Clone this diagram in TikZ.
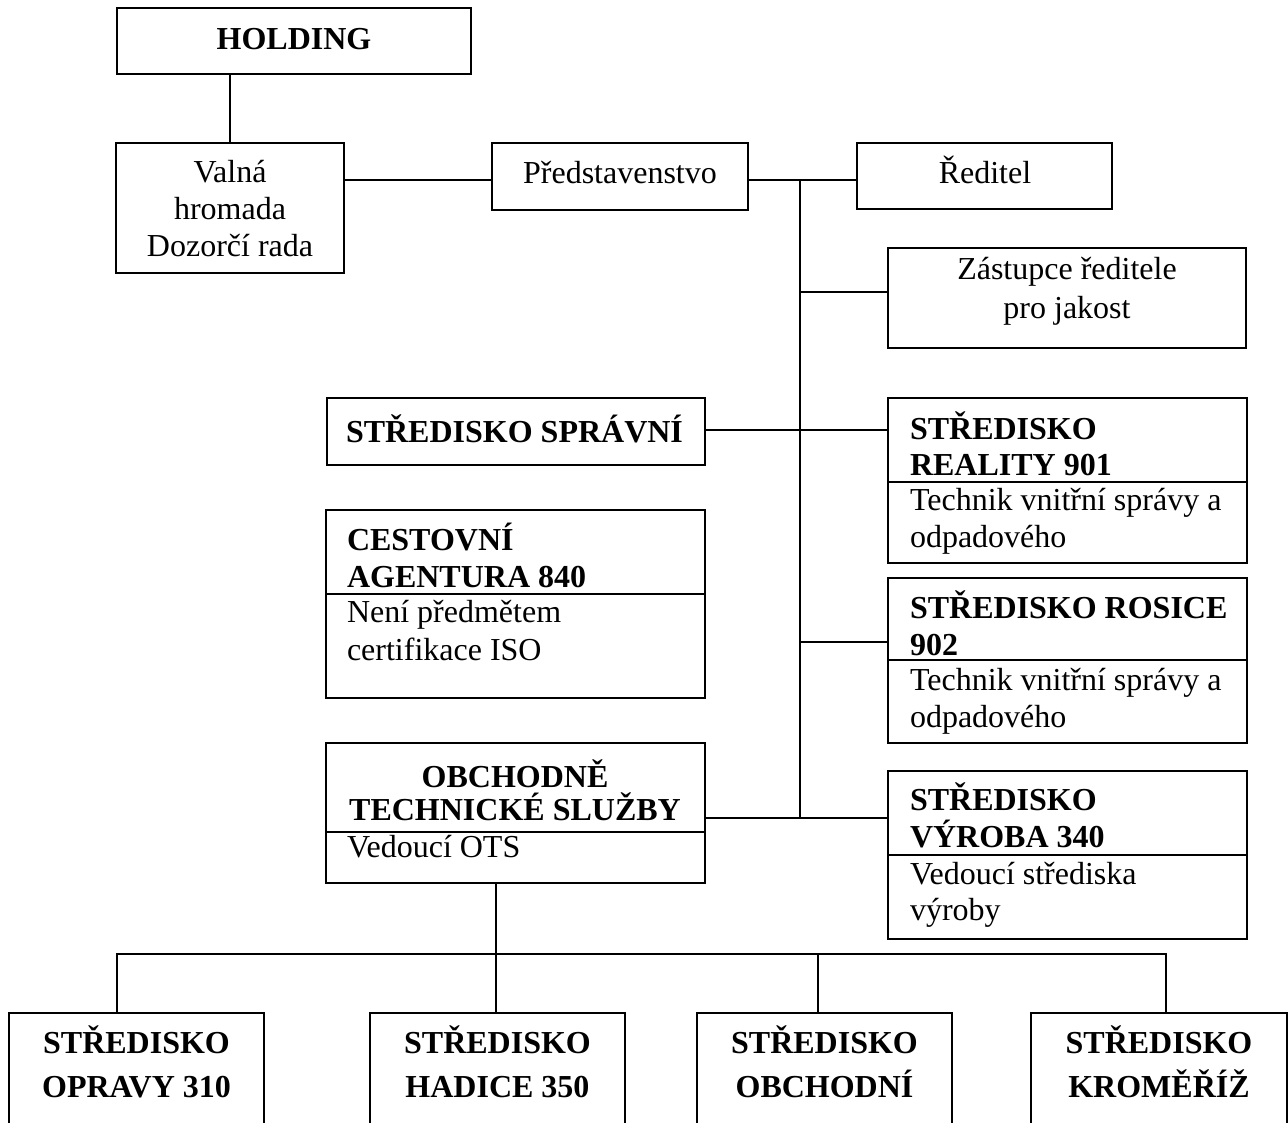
\documentclass[tikz,border=0pt]{standalone}
\usepackage{fontspec}
\setmainfont{Liberation Serif}
\begin{document}
\begin{tikzpicture}[x=1pt,y=-1pt,
  ln/.style={line width=1.6pt, black},
  box/.style={draw, line width=1.6pt, rectangle, inner sep=0pt, outer sep=0pt, anchor=north west},
  txt/.style={inner sep=0pt, outer sep=0pt, font=\fontsize{32pt}{37pt}\selectfont},
  txtb/.style={txt, font=\fontsize{32pt}{37pt}\selectfont\bfseries}]
\useasboundingbox (0,0) rectangle (1288,1122);
\fill[white] (0,0) rectangle (1288,1122);
% boxes
\node[box, minimum width=354pt, minimum height=66pt] (holding) at (117,8) {};
\node[box, minimum width=228pt, minimum height=130pt] (valna) at (116,143) {};
\node[box, minimum width=256pt, minimum height=67pt] (predst) at (492,143) {};
\node[box, minimum width=255pt, minimum height=66pt] (reditel) at (857,143) {};
\node[box, minimum width=358pt, minimum height=100pt] (zastupce) at (888,248) {};
\node[box, minimum width=378pt, minimum height=67pt] (spravni) at (327,398) {};
\node[box, minimum width=359pt, minimum height=165pt] (reality) at (888,398) {};
\node[box, minimum width=359pt, minimum height=165pt] (rosice) at (888,578) {};
\node[box, minimum width=379pt, minimum height=188pt] (cestovni) at (326,510) {};
\node[box, minimum width=379pt, minimum height=140pt] (obchod) at (326,743) {};
\node[box, minimum width=359pt, minimum height=168pt] (vyroba) at (888,771) {};
\node[box, minimum width=255pt, minimum height=140pt] (b1) at (9,1013) {};
\node[box, minimum width=255pt, minimum height=140pt] (b2) at (370,1013) {};
\node[box, minimum width=255pt, minimum height=140pt] (b3) at (697,1013) {};
\node[box, minimum width=256pt, minimum height=140pt] (b4) at (1031,1013) {};
% dividers
\draw[ln] (reality.west |- 0,482) -- (reality.east |- 0,482);
\draw[ln] (rosice.west |- 0,660) -- (rosice.east |- 0,660);
\draw[ln] (cestovni.west |- 0,594) -- (cestovni.east |- 0,594);
\draw[ln] (obchod.west |- 0,832) -- (obchod.east |- 0,832);
\draw[ln] (vyroba.west |- 0,855) -- (vyroba.east |- 0,855);
% texts
\node[txtb, anchor=base] (tholding) at (294,49) {HOLDING};
\node[txt, anchor=base] (tvalna1) at (230,182) {Valná};
\node[txt, anchor=base] (tvalna2) at (230,219) {hromada};
\node[txt, anchor=base] (tvalna3) at (230,256) {Dozorčí rada};
\node[txt, anchor=base] (tpredst) at (620,183) {Představenstvo};
\node[txt, anchor=base] (treditel) at (985,183) {Ředitel};
\node[txt, anchor=base] (tzast1) at (1067,279) {Zástupce ředitele};
\node[txt, anchor=base] (tzast2) at (1067,318) {pro jakost};
\node[txtb, anchor=base west] (tspravni) at (346,442) {STŘEDISKO SPRÁVNÍ};
\node[txtb, anchor=base west] (treal1) at (910,439) {STŘEDISKO};
\node[txtb, anchor=base west] (treal2) at (910,475) {REALITY 901};
\node[txt, anchor=base west] (treal3) at (910,510) {Technik vnitřní správy a};
\node[txt, anchor=base west] (treal4) at (910,547) {odpadového};
\node[txtb, anchor=base west] (tros1) at (910,618) {STŘEDISKO ROSICE};
\node[txtb, anchor=base west] (tros2) at (910,655) {902};
\node[txt, anchor=base west] (tros3) at (910,690) {Technik vnitřní správy a};
\node[txt, anchor=base west] (tros4) at (910,727) {odpadového};
\node[txtb, anchor=base west] (tces1) at (347,550) {CESTOVNÍ};
\node[txtb, anchor=base west] (tces2) at (347,587) {AGENTURA 840};
\node[txt, anchor=base west] (tces3) at (347,622) {Není předmětem};
\node[txt, anchor=base west] (tces4) at (347,660) {certifikace ISO};
\node[txtb, anchor=base] (tobch1) at (515,787) {OBCHODNĚ};
\node[txtb, anchor=base] (tobch2) at (515,820) {TECHNICKÉ SLUŽBY};
\node[txt, anchor=base west] (tobch3) at (347,857) {Vedoucí OTS};
\node[txtb, anchor=base west] (tvyr1) at (910,810) {STŘEDISKO};
\node[txtb, anchor=base west] (tvyr2) at (910,847) {VÝROBA 340};
\node[txt, anchor=base west] (tvyr3) at (910,884) {Vedoucí střediska};
\node[txt, anchor=base west] (tvyr4) at (910,920) {výroby};
\node[txtb, anchor=base] (tb1a) at (136.5,1053) {STŘEDISKO};
\node[txtb, anchor=base] (tb1b) at (136.5,1097) {OPRAVY 310};
\node[txtb, anchor=base] (tb2a) at (497.5,1053) {STŘEDISKO};
\node[txtb, anchor=base] (tb2b) at (497.5,1097) {HADICE 350};
\node[txtb, anchor=base] (tb3a) at (824.5,1053) {STŘEDISKO};
\node[txtb, anchor=base] (tb3b) at (824.5,1097) {OBCHODNÍ};
\node[txtb, anchor=base] (tb4a) at (1159,1053) {STŘEDISKO};
\node[txtb, anchor=base] (tb4b) at (1159,1097) {KROMĚŘÍŽ};
% connectors
\coordinate (j0) at (800,180);
\coordinate (j1) at (800,292);
\coordinate (j2) at (800,430);
\coordinate (j3) at (800,642);
\coordinate (j4) at (800,818);
\draw[ln] (valna.north) -- (valna.north |- holding.south);
\draw[ln] (valna.east |- j0) -- (predst.west |- j0);
\draw[ln] (predst.east |- j0) -- (reditel.west |- j0);
\draw[ln] (j0) -- (j4);
\draw[ln] (j1) -- (zastupce.west |- j1);
\draw[ln] (spravni.east |- j2) -- (reality.west |- j2);
\draw[ln] (j3) -- (rosice.west |- j3);
\draw[ln] (obchod.east |- j4) -- (vyroba.west |- j4);
\coordinate (c1) at (117,954);
\coordinate (c2) at (496,954);
\coordinate (c3) at (818,954);
\coordinate (c4) at (1166,954);
\draw[ln] (c2 |- obchod.south) -- (c2 |- b2.north);
\draw[ln] (c1 |- b1.north) -- (c1) -- (c4) -- (c4 |- b4.north);
\draw[ln] (c3) -- (c3 |- b3.north);
\end{tikzpicture}
\end{document}
